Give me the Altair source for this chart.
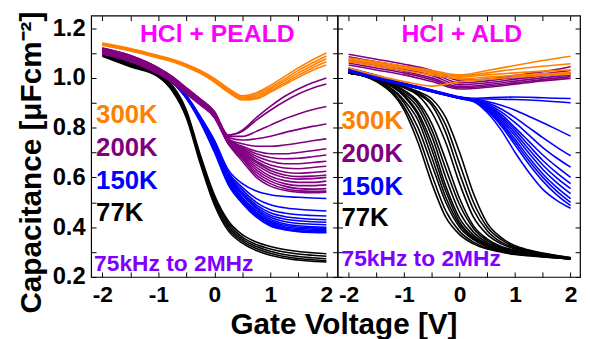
import altair as alt
import pandas as pd

# ---------------- data ----------------
X15 = [-2, -1.5, -1, -0.75, -0.5, -0.25, 0, 0.25, 0.5, 0.75, 1, 1.25, 1.5, 1.75, 2]
X9 = [-2, -1.5, -1, -0.5, 0, 0.5, 1, 1.5, 2]

panel_titles = ["HCl + PEALD", "HCl + ALD"]
temps = ["300K", "200K", "150K", "77K"]
freq_label = "75kHz to 2MHz"
x_ticks_major = [-2, -1, 0, 1, 2]
x_ticks_all = [-2, -1.5, -1, -0.5, 0, 0.5, 1, 1.5, 2]
y_ticks_major = [0.2, 0.4, 0.6, 0.8, 1.0, 1.2]
y_ticks_all = [0.2, 0.3, 0.4, 0.5, 0.6, 0.7, 0.8, 0.9, 1.0, 1.1, 1.2]

# HCl + PEALD (left), on X15
peald_300K = [
    [1.14, 1.118, 1.09, 1.075, 1.055, 1.03, 0.998, 0.958, 0.928, 0.94, 0.97, 1.005, 1.04, 1.072, 1.10],
    [1.137, 1.115, 1.087, 1.072, 1.052, 1.027, 0.994, 0.954, 0.923, 0.933, 0.962, 0.995, 1.03, 1.06, 1.088],
    [1.135, 1.113, 1.085, 1.07, 1.05, 1.024, 0.99, 0.95, 0.919, 0.927, 0.955, 0.987, 1.02, 1.05, 1.077],
    [1.133, 1.11, 1.082, 1.067, 1.047, 1.021, 0.987, 0.946, 0.915, 0.921, 0.948, 0.979, 1.01, 1.04, 1.065],
    [1.131, 1.108, 1.08, 1.065, 1.044, 1.018, 0.983, 0.942, 0.911, 0.916, 0.942, 0.972, 1.002, 1.03, 1.052],
]
peald_200K = [
    [1.12, 1.09, 1.04, 1.005, 0.96, 0.915, 0.865, 0.77, 0.79, 0.84, 0.885, 0.925, 0.955, 0.98, 1.00],
    [1.12, 1.09, 1.04, 1.005, 0.96, 0.915, 0.865, 0.77, 0.785, 0.83, 0.87, 0.905, 0.935, 0.958, 0.975],
    [1.118, 1.088, 1.038, 1.003, 0.958, 0.913, 0.862, 0.765, 0.765, 0.785, 0.81, 0.835, 0.855, 0.872, 0.885],
    [1.115, 1.085, 1.035, 1.0, 0.955, 0.91, 0.86, 0.76, 0.75, 0.755, 0.765, 0.78, 0.793, 0.805, 0.815],
    [1.113, 1.083, 1.033, 0.998, 0.953, 0.908, 0.858, 0.755, 0.735, 0.725, 0.725, 0.73, 0.738, 0.747, 0.755],
    [1.11, 1.08, 1.03, 0.995, 0.95, 0.905, 0.855, 0.755, 0.725, 0.705, 0.695, 0.695, 0.70, 0.707, 0.715],
    [1.108, 1.078, 1.028, 0.993, 0.948, 0.903, 0.853, 0.75, 0.72, 0.695, 0.68, 0.675, 0.677, 0.683, 0.69],
    [1.106, 1.076, 1.026, 0.991, 0.946, 0.901, 0.851, 0.75, 0.715, 0.685, 0.665, 0.655, 0.655, 0.66, 0.665],
    [1.104, 1.074, 1.024, 0.989, 0.944, 0.899, 0.849, 0.745, 0.71, 0.675, 0.65, 0.638, 0.635, 0.64, 0.645],
    [1.103, 1.073, 1.023, 0.988, 0.943, 0.898, 0.848, 0.745, 0.705, 0.665, 0.638, 0.622, 0.617, 0.62, 0.625],
    [1.102, 1.072, 1.022, 0.987, 0.942, 0.897, 0.847, 0.745, 0.70, 0.66, 0.628, 0.61, 0.603, 0.605, 0.61],
    [1.101, 1.071, 1.021, 0.986, 0.941, 0.896, 0.846, 0.74, 0.695, 0.65, 0.618, 0.60, 0.593, 0.595, 0.60],
    [1.10, 1.07, 1.02, 0.985, 0.94, 0.895, 0.845, 0.74, 0.69, 0.64, 0.605, 0.587, 0.58, 0.58, 0.585],
    [1.099, 1.069, 1.019, 0.984, 0.939, 0.894, 0.844, 0.74, 0.685, 0.63, 0.595, 0.575, 0.567, 0.567, 0.57],
    [1.098, 1.068, 1.018, 0.983, 0.938, 0.893, 0.843, 0.735, 0.68, 0.62, 0.585, 0.565, 0.555, 0.553, 0.555],
    [1.097, 1.067, 1.017, 0.982, 0.937, 0.892, 0.842, 0.735, 0.675, 0.61, 0.575, 0.555, 0.546, 0.544, 0.545],
    [1.096, 1.066, 1.016, 0.981, 0.936, 0.891, 0.841, 0.735, 0.665, 0.60, 0.565, 0.548, 0.54, 0.538, 0.54],
]
peald_150K = [
    [1.118, 1.088, 1.038, 0.995, 0.93, 0.845, 0.75, 0.63, 0.575, 0.545, 0.53, 0.523, 0.52, 0.517, 0.515],
    [1.117, 1.087, 1.037, 0.993, 0.928, 0.842, 0.745, 0.62, 0.56, 0.515, 0.49, 0.478, 0.472, 0.468, 0.465],
    [1.116, 1.086, 1.036, 0.992, 0.927, 0.84, 0.74, 0.615, 0.55, 0.50, 0.47, 0.457, 0.45, 0.447, 0.445],
    [1.115, 1.085, 1.035, 0.991, 0.926, 0.838, 0.735, 0.61, 0.54, 0.49, 0.458, 0.443, 0.436, 0.432, 0.43],
    [1.115, 1.085, 1.035, 0.99, 0.925, 0.836, 0.73, 0.605, 0.535, 0.482, 0.448, 0.433, 0.426, 0.422, 0.42],
    [1.114, 1.084, 1.034, 0.989, 0.924, 0.834, 0.726, 0.60, 0.53, 0.475, 0.44, 0.423, 0.415, 0.412, 0.41],
    [1.114, 1.084, 1.034, 0.988, 0.923, 0.832, 0.722, 0.595, 0.52, 0.467, 0.432, 0.414, 0.406, 0.402, 0.40],
    [1.113, 1.083, 1.033, 0.987, 0.922, 0.83, 0.718, 0.59, 0.515, 0.46, 0.425, 0.408, 0.40, 0.397, 0.395],
    [1.113, 1.083, 1.033, 0.986, 0.921, 0.828, 0.714, 0.585, 0.51, 0.455, 0.42, 0.402, 0.395, 0.392, 0.39],
    [1.112, 1.082, 1.032, 0.985, 0.92, 0.826, 0.71, 0.58, 0.505, 0.45, 0.415, 0.397, 0.39, 0.387, 0.385],
    [1.112, 1.082, 1.032, 0.984, 0.919, 0.824, 0.706, 0.575, 0.50, 0.445, 0.41, 0.392, 0.385, 0.382, 0.38],
    [1.111, 1.081, 1.031, 0.983, 0.918, 0.822, 0.702, 0.57, 0.495, 0.44, 0.405, 0.39, 0.382, 0.379, 0.378],
]
peald_77K = [
    [1.10, 1.06, 1.02, 0.97, 0.87, 0.69, 0.53, 0.425, 0.37, 0.34, 0.322, 0.31, 0.302, 0.297, 0.293],
    [1.097, 1.055, 1.015, 0.962, 0.862, 0.68, 0.52, 0.415, 0.36, 0.33, 0.312, 0.30, 0.292, 0.287, 0.283],
    [1.094, 1.052, 1.012, 0.958, 0.855, 0.672, 0.51, 0.405, 0.352, 0.322, 0.303, 0.29, 0.282, 0.277, 0.273],
    [1.09, 1.048, 1.008, 0.952, 0.848, 0.664, 0.50, 0.395, 0.344, 0.314, 0.295, 0.282, 0.274, 0.269, 0.265],
    [1.087, 1.045, 1.004, 0.947, 0.84, 0.655, 0.49, 0.385, 0.336, 0.306, 0.287, 0.275, 0.268, 0.263, 0.26],
]

# HCl + ALD (right)
ald_300K = [  # on X9
    [1.08, 1.065, 1.048, 1.03, 1.012, 1.03, 1.05, 1.07, 1.087],
    [1.075, 1.06, 1.043, 1.025, 1.007, 1.02, 1.035, 1.047, 1.057],
    [1.07, 1.055, 1.038, 1.02, 1.003, 1.012, 1.02, 1.027, 1.032],
    [1.065, 1.048, 1.03, 1.012, 0.997, 1.003, 1.01, 1.016, 1.02],
    [1.04, 1.01, 0.985, 0.967, 0.985, 0.995, 1.003, 1.01, 1.015],
]
ald_200K = [  # on X9
    [1.095, 1.075, 1.055, 1.03, 0.99, 0.995, 1.01, 1.025, 1.045],
    [1.085, 1.065, 1.045, 1.02, 0.98, 0.988, 1.002, 1.016, 1.03],
    [1.075, 1.055, 1.035, 1.01, 0.972, 0.98, 0.995, 1.008, 1.02],
    [1.068, 1.048, 1.027, 1.0, 0.965, 0.973, 0.987, 1.0, 1.012],
    [1.06, 1.04, 1.02, 0.993, 0.96, 0.967, 0.98, 0.993, 1.005],
    [1.052, 1.032, 1.012, 0.985, 0.955, 0.962, 0.975, 0.988, 0.998],
]
ald_150K = [  # on X15
    [1.04, 1.01, 0.978, 0.965, 0.951, 0.937, 0.924, 0.918, 0.92, 0.922, 0.923, 0.922, 0.92, 0.918, 0.917],
    [1.038, 1.008, 0.977, 0.964, 0.95, 0.936, 0.923, 0.916, 0.915, 0.914, 0.913, 0.911, 0.908, 0.904, 0.90],
    [1.037, 1.007, 0.976, 0.963, 0.949, 0.935, 0.922, 0.915, 0.905, 0.89, 0.87, 0.845, 0.82, 0.793, 0.766],
    [1.036, 1.006, 0.976, 0.962, 0.948, 0.935, 0.922, 0.914, 0.90, 0.875, 0.84, 0.80, 0.76, 0.722, 0.687],
    [1.035, 1.005, 0.975, 0.962, 0.948, 0.934, 0.921, 0.913, 0.895, 0.863, 0.82, 0.77, 0.72, 0.678, 0.641],
    [1.034, 1.004, 0.974, 0.961, 0.947, 0.934, 0.921, 0.912, 0.89, 0.853, 0.80, 0.745, 0.69, 0.643, 0.60],
    [1.033, 1.003, 0.974, 0.961, 0.947, 0.933, 0.92, 0.911, 0.887, 0.845, 0.79, 0.728, 0.668, 0.618, 0.575],
    [1.032, 1.002, 0.973, 0.96, 0.946, 0.933, 0.92, 0.91, 0.883, 0.838, 0.778, 0.712, 0.65, 0.598, 0.555],
    [1.031, 1.001, 0.973, 0.96, 0.946, 0.932, 0.919, 0.909, 0.879, 0.83, 0.766, 0.697, 0.632, 0.579, 0.535],
    [1.03, 1.0, 0.972, 0.959, 0.945, 0.932, 0.919, 0.908, 0.875, 0.822, 0.753, 0.68, 0.614, 0.56, 0.515],
    [1.029, 0.999, 0.972, 0.959, 0.945, 0.931, 0.918, 0.907, 0.871, 0.815, 0.742, 0.667, 0.60, 0.545, 0.50],
    [1.028, 0.998, 0.971, 0.958, 0.944, 0.931, 0.918, 0.906, 0.867, 0.807, 0.73, 0.653, 0.585, 0.53, 0.487],
    [1.027, 0.997, 0.971, 0.958, 0.944, 0.93, 0.917, 0.905, 0.86, 0.79, 0.70, 0.62, 0.552, 0.508, 0.476],
]
ald_77K = [  # on X15
    [1.02, 0.985, 0.87, 0.74, 0.575, 0.44, 0.37, 0.333, 0.312, 0.30, 0.29, 0.285, 0.28, 0.276, 0.272],
    [1.02, 0.988, 0.883, 0.77, 0.61, 0.466, 0.383, 0.34, 0.315, 0.302, 0.292, 0.286, 0.281, 0.277, 0.272],
    [1.02, 0.99, 0.90, 0.80, 0.65, 0.50, 0.40, 0.35, 0.32, 0.305, 0.295, 0.288, 0.282, 0.277, 0.272],
    [1.02, 0.992, 0.91, 0.83, 0.68, 0.52, 0.41, 0.355, 0.325, 0.307, 0.297, 0.289, 0.283, 0.278, 0.272],
    [1.02, 0.994, 0.925, 0.85, 0.71, 0.545, 0.42, 0.36, 0.328, 0.308, 0.298, 0.29, 0.284, 0.278, 0.272],
    [1.02, 0.995, 0.93, 0.86, 0.735, 0.565, 0.435, 0.368, 0.332, 0.31, 0.30, 0.291, 0.285, 0.279, 0.273],
    [1.02, 0.996, 0.937, 0.88, 0.765, 0.60, 0.46, 0.38, 0.338, 0.315, 0.303, 0.294, 0.287, 0.28, 0.274],
    [1.02, 0.997, 0.945, 0.895, 0.79, 0.635, 0.49, 0.395, 0.345, 0.318, 0.305, 0.296, 0.288, 0.281, 0.274],
    [1.02, 0.998, 0.95, 0.905, 0.815, 0.67, 0.515, 0.405, 0.352, 0.322, 0.307, 0.297, 0.289, 0.282, 0.275],
    [1.022, 1.0, 0.96, 0.93, 0.86, 0.74, 0.575, 0.44, 0.37, 0.333, 0.312, 0.30, 0.29, 0.283, 0.276],
    [1.022, 1.0, 0.962, 0.935, 0.89, 0.78, 0.615, 0.47, 0.385, 0.34, 0.316, 0.303, 0.292, 0.284, 0.276],
    [1.024, 1.0, 0.964, 0.94, 0.90, 0.81, 0.655, 0.50, 0.40, 0.35, 0.32, 0.305, 0.294, 0.285, 0.277],
    [1.025, 1.0, 0.965, 0.945, 0.915, 0.84, 0.70, 0.535, 0.415, 0.358, 0.325, 0.308, 0.296, 0.286, 0.278],
]

# ---------------- styling ----------------
COL = {"300K": "#FF8000", "200K": "#800080", "150K": "#0000FF", "77K": "#000000"}
FREQ_COL = "#8000FF"
TITLE_COL = "#FF00FF"
FONT = "Liberation Sans"
W = 249
W2 = 245
H = 264


def to_df(curves, xs, name):
    rows = []
    for i, c in enumerate(curves):
        for x, v in zip(xs, c):
            rows.append({"x": x, "c": v, "curve": f"{name}{i}"})
    return pd.DataFrame(rows)


def tick_axis(orient):
    vals = x_ticks_all if orient in ("bottom", "top") else y_ticks_all
    return alt.Axis(orient=orient, offset=-5, values=vals, labels=False, domain=False,
                    ticks=True, tickSize=5, tickWidth=1, tickColor="black",
                    grid=False, title=None)


def panel(sets, width, xdom, title, text_pos, show_y):
    xs = alt.Scale(domain=xdom, nice=False, zero=False)
    ys = alt.Scale(domain=[0.2, 1.25], nice=False, zero=False)

    x_label_axis = alt.Axis(orient="bottom", values=x_ticks_major, ticks=False, domain=False,
                            grid=False, labelExpr="'' + datum.value", labelFont=FONT,
                            labelFontSize=23, labelFontWeight="bold", labelColor="black",
                            labelPadding=7, labelFlush=False,
                            title="Gate Voltage [V]" if show_y else None,
                            titleFont=FONT, titleFontSize=30, titleFontWeight="bold",
                            titleColor="black", titleX=W + 6, titleY=57, titleAlign="center",
                            titleBaseline="alphabetic", titleAngle=0)
    if show_y:
        y_label_axis = alt.Axis(orient="left", values=y_ticks_major, ticks=False, domain=False,
                                grid=False, labelExpr="format(datum.value, '.1f')",
                                labelFont=FONT, labelFontSize=24, labelFontWeight="bold",
                                labelColor="black", labelPadding=6,
                                title="Capacitance [μFcm⁻²]", titleFont=FONT,
                                titleFontSize=30, titleFontWeight="bold", titleColor="black",
                                titleX=-51, titleY=148, titleAlign="center",
                                titleBaseline="alphabetic", titleAngle=270)
    else:
        y_label_axis = None

    axes = [
        (x_label_axis, y_label_axis),
        (tick_axis("bottom"), tick_axis("left")),
        (tick_axis("top"), tick_axis("right")),
        (None, None),
    ]
    layers = []
    for (df, color), (ax, ay) in zip(sets, axes):
        layers.append(
            alt.Chart(df).mark_line(strokeWidth=1.6, interpolate="monotone", color=color)
            .encode(x=alt.X("x:Q", scale=xs, axis=ax),
                    y=alt.Y("c:Q", scale=ys, axis=ay),
                    detail="curve:N")
        )
    # texts
    layers.append(
        alt.Chart(pd.DataFrame({"t": [title]})).mark_text(
            font=FONT, fontSize=25, fontWeight="bold", color=TITLE_COL,
            align="center", baseline="middle")
        .encode(x=alt.value(width / 2 + 3), y=alt.value(19), text="t:N")
    )
    for lab, (px, py) in zip(temps + [freq_label], text_pos):
        col = COL.get(lab, FREQ_COL)
        fs = 23 if lab == freq_label else 26
        layers.append(
            alt.Chart(pd.DataFrame({"t": [lab]})).mark_text(
                font=FONT, fontSize=fs, fontWeight="bold", color=col,
                align="left", baseline="middle")
            .encode(x=alt.value(px), y=alt.value(py), text="t:N")
        )
    return alt.layer(*layers).resolve_axis(x="independent", y="independent").properties(
        width=width, height=H)


left = panel(
    [(to_df(peald_77K, X15, "k"), COL["77K"]),
     (to_df(peald_150K, X15, "b"), COL["150K"]),
     (to_df(peald_200K, X15, "p"), COL["200K"]),
     (to_df(peald_300K, X15, "o"), COL["300K"])],
    W, [-2.2, 2.2], panel_titles[0],
    [(5, 100), (5, 134), (5, 167), (5, 199), (3, 251)], True)

right = panel(
    [(to_df(ald_77K, X15, "k"), COL["77K"]),
     (to_df(ald_150K, X15, "b"), COL["150K"]),
     (to_df(ald_200K, X9, "p"), COL["200K"]),
     (to_df(ald_300K, X9, "o"), COL["300K"])],
    W2, [-2.2, 2.17], panel_titles[1],
    [(4, 107), (4, 140), (4, 173), (4, 205), (4, 246)], False)

chart = alt.hconcat(left, right, spacing=0, bounds="flush").properties(
    padding={"left": 8, "top": 0, "right": 0, "bottom": 0}
).configure_view(stroke="black", strokeWidth=1.2).configure_axis(grid=False)

chart.save("out.html", embed_options={"renderer": "svg", "actions": False})
